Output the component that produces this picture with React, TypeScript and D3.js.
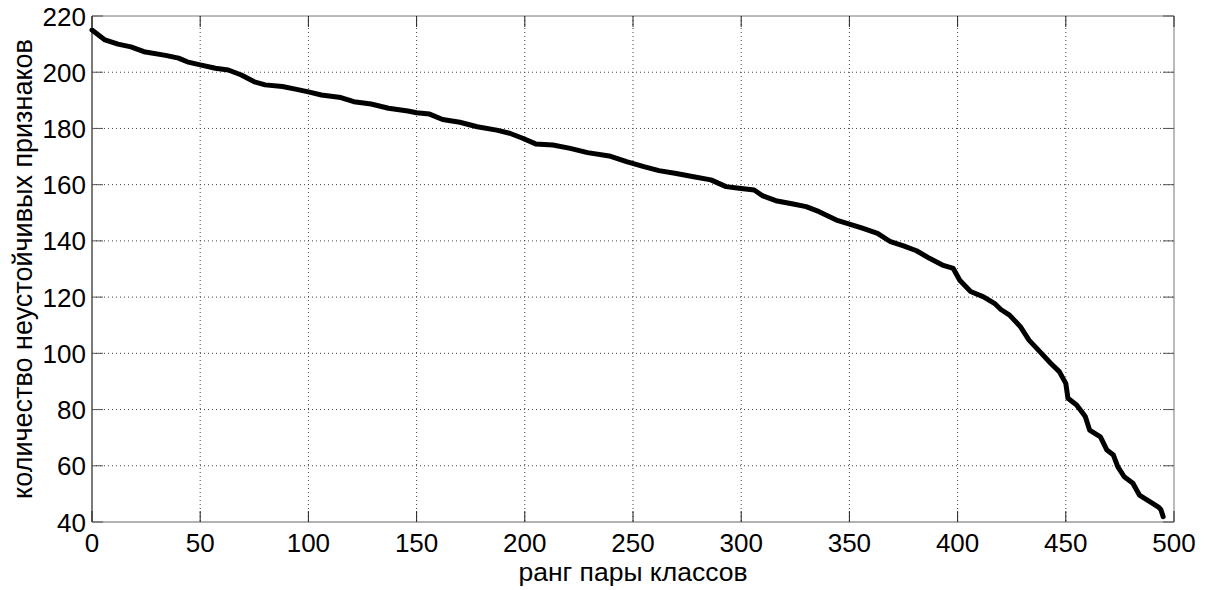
import React from 'react';
import * as d3 from 'd3';

// rank of class pair -> number of unstable features
const ranks = [0, 6, 12, 18, 24, 34, 40, 44, 50, 57, 63, 69, 75, 80, 88, 94, 100, 106, 115, 121, 129, 137, 146, 150, 156, 162, 170, 178, 187, 193, 199, 205, 213, 221, 229, 239, 247, 255, 262, 270, 278, 286, 293, 299, 306, 310, 316, 324, 330, 336, 344, 350, 356, 363, 369, 375, 381, 387, 393, 398, 401, 406, 412, 417, 420, 424, 429, 433, 438, 443, 447, 450, 451, 455, 459, 461, 466, 469, 472, 474, 477, 481, 484, 489, 493, 494, 495];
const counts = [215, 211.5, 210, 209, 207.3, 206, 205, 203.7, 202.6, 201.4, 200.8, 199, 196.6, 195.5, 194.9, 194, 193, 191.9, 191, 189.5, 188.7, 187.2, 186.2, 185.6, 185.1, 183.2, 182.2, 180.6, 179.4, 178.3, 176.5, 174.5, 174.1, 172.9, 171.4, 170.2, 168.2, 166.4, 165, 164, 162.8, 161.7, 159.3, 158.7, 158.1, 156, 154.3, 153.1, 152.2, 150.4, 147.4, 146, 144.5, 142.7, 139.7, 138.2, 136.5, 133.8, 131.4, 130.2, 126, 122, 120.1, 117.8, 115.6, 113.6, 109.5, 104.7, 100.6, 96.5, 93.5, 89.3, 84, 81.6, 77.5, 72.7, 70.3, 65.6, 63.8, 59.7, 56.1, 53.8, 49.6, 47.2, 45.2, 44.3, 41.9];

const xTicks = [0, 50, 100, 150, 200, 250, 300, 350, 400, 450, 500];
const yTicks = [40, 60, 80, 100, 120, 140, 160, 180, 200, 220];

const xTitle = 'ранг пары классов';
const yTitle = 'количество неустойчивых признаков';

const W = 1207;
const H = 590;
const left = 92, right = 1174, top = 16, bottom = 522;
const font = '"Liberation Sans", Arial, Helvetica, sans-serif';
const tickLen = 11;

export default function App() {
  const x = d3.scaleLinear().domain([0, 500]).range([left, right]);
  const y = d3.scaleLinear().domain([40, 220]).range([bottom, top]);

  const pts: [number, number][] = ranks.map((r, i) => [r, counts[i]]);
  const line = d3.line<[number, number]>()
    .x((d) => x(d[0]))
    .y((d) => y(d[1]));

  return (
    <svg width={W} height={H} style={{ position: 'absolute', left: 0, top: 0, background: '#fff' }}
      fontFamily={font}>
      <rect x={0} y={0} width={W} height={H} fill="#fff" />

      {/* grid */}
      {xTicks.slice(1, -1).map((t) => (
        <line key={'gx' + t} x1={x(t)} x2={x(t)} y1={top} y2={bottom}
          stroke="#444" strokeWidth={1} strokeDasharray="1 3" />
      ))}
      {yTicks.slice(1, -1).map((t) => (
        <line key={'gy' + t} x1={left} x2={right} y1={y(t)} y2={y(t)}
          stroke="#444" strokeWidth={1} strokeDasharray="1 3" />
      ))}

      {/* box */}
      <line x1={left} x2={right} y1={top} y2={top} stroke="#777" strokeWidth={1} />
      <line x1={right} x2={right} y1={top} y2={bottom} stroke="#777" strokeWidth={1} />
      <line x1={left} x2={right} y1={bottom} y2={bottom} stroke="#666" strokeWidth={1.2} />
      <line x1={left} x2={left} y1={top} y2={bottom} stroke="#222" strokeWidth={1.2} />

      {/* ticks */}
      {xTicks.map((t) => (
        <g key={'tx' + t}>
          <line x1={x(t)} x2={x(t)} y1={bottom} y2={bottom - tickLen} stroke="#222" />
          <line x1={x(t)} x2={x(t)} y1={top} y2={top + tickLen} stroke="#222" />
          <text x={x(t)} y={552} textAnchor="middle" fontSize={26} fill="#000">{t}</text>
        </g>
      ))}
      {yTicks.map((t) => (
        <g key={'ty' + t}>
          <line x1={left} x2={left + tickLen} y1={y(t)} y2={y(t)} stroke="#555" />
          <line x1={right} x2={right - tickLen} y1={y(t)} y2={y(t)} stroke="#555" />
          <text x={86} y={y(t) + 9.5} textAnchor="end" fontSize={26} fill="#000">{t}</text>
        </g>
      ))}

      {/* series */}
      <path d={line(pts) || ''} fill="none" stroke="#000" strokeWidth={5}
        strokeLinejoin="round" strokeLinecap="round" />

      {/* titles */}
      <text x={(left + right) / 2} y={581} textAnchor="middle" fontSize={26.5} fill="#000">{xTitle}</text>
      <text transform={`translate(32,${(top + bottom) / 2}) rotate(-90)`} textAnchor="middle"
        fontSize={27} fill="#000">{yTitle}</text>
    </svg>
  );
}
